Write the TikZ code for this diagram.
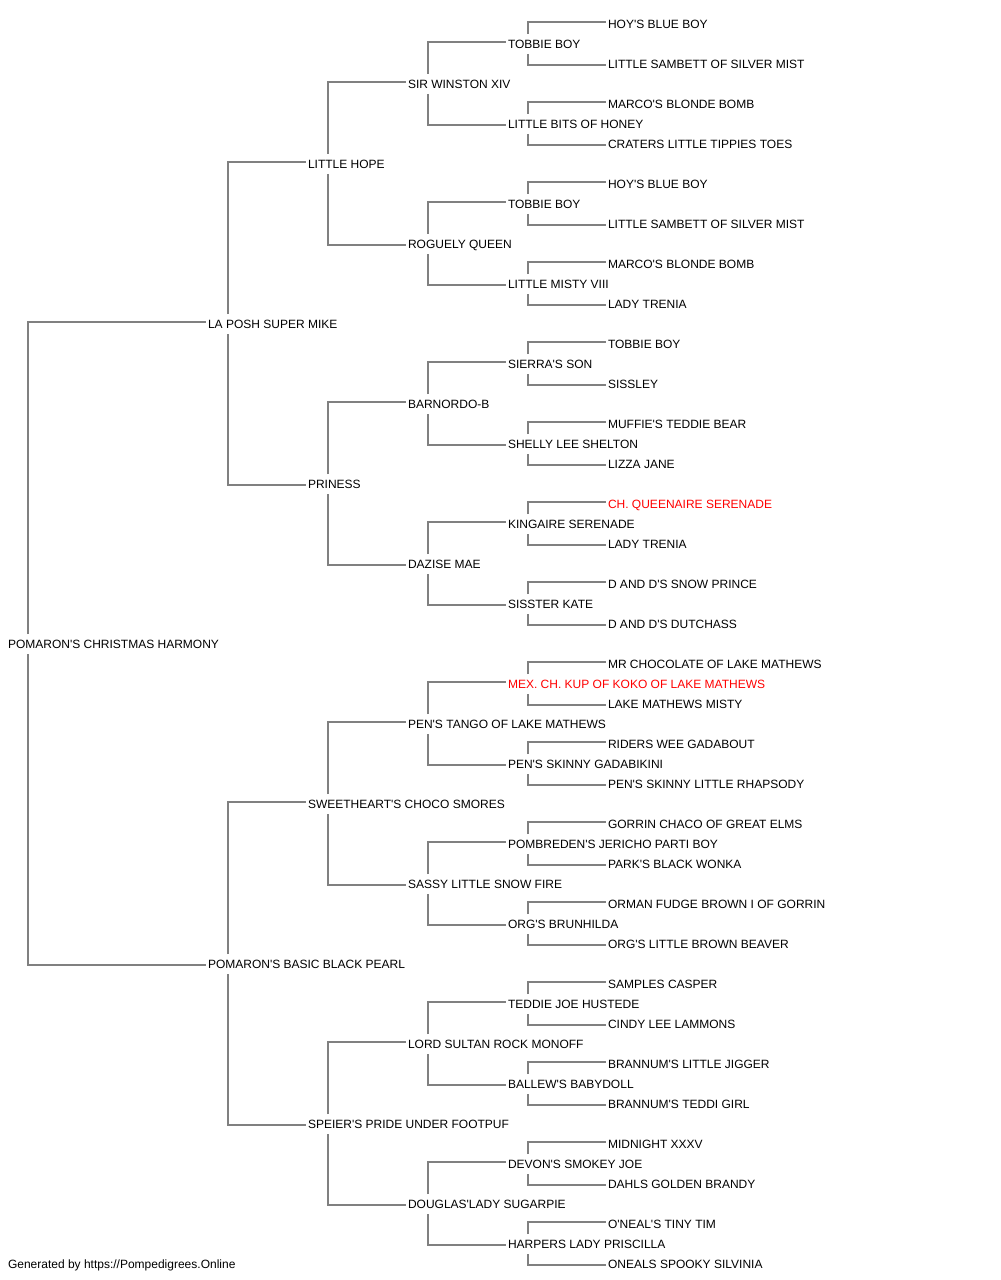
\documentclass[tikz,border=0pt]{standalone}
\usepackage{fontspec}
\newfontfamily\pf{Liberation Sans}
\definecolor{lngray}{RGB}{128,128,128}
\definecolor{redname}{RGB}{255,0,0}
\begin{document}
\begin{tikzpicture}[x=0.75pt,y=-0.75pt,
  nm/.style={anchor=west,inner sep=0pt,outer sep=0pt,text height=6.45pt,text depth=0pt,font=\pf\fontsize{9pt}{10pt}\selectfont,text=black},
  rednm/.style={nm,text=redname},
  ln/.style={draw=lngray,line width=1pt}]
\useasboundingbox (0,0) rectangle (1000,1280);
% generation 0
\node[nm] (g0-0) at (8,644) {POMARON'S CHRISTMAS HARMONY};
% generation 1
\node[nm] (g1-0) at (208,324) {LA POSH SUPER MIKE};
\node[nm] (g1-1) at (208,964) {POMARON'S BASIC BLACK PEARL};
% generation 2
\node[nm] (g2-0) at (308,164) {LITTLE HOPE};
\node[nm] (g2-1) at (308,484) {PRINESS};
\node[nm] (g2-2) at (308,804) {SWEETHEART'S CHOCO SMORES};
\node[nm] (g2-3) at (308,1124) {SPEIER'S PRIDE UNDER FOOTPUF};
% generation 3
\node[nm] (g3-0) at (408,84) {SIR WINSTON XIV};
\node[nm] (g3-1) at (408,244) {ROGUELY QUEEN};
\node[nm] (g3-2) at (408,404) {BARNORDO-B};
\node[nm] (g3-3) at (408,564) {DAZISE MAE};
\node[nm] (g3-4) at (408,724) {PEN'S TANGO OF LAKE MATHEWS};
\node[nm] (g3-5) at (408,884) {SASSY LITTLE SNOW FIRE};
\node[nm] (g3-6) at (408,1044) {LORD SULTAN ROCK MONOFF};
\node[nm] (g3-7) at (408,1204) {DOUGLAS'LADY SUGARPIE};
% generation 4
\node[nm] (g4-0) at (508,44) {TOBBIE BOY};
\node[nm] (g4-1) at (508,124) {LITTLE BITS OF HONEY};
\node[nm] (g4-2) at (508,204) {TOBBIE BOY};
\node[nm] (g4-3) at (508,284) {LITTLE MISTY VIII};
\node[nm] (g4-4) at (508,364) {SIERRA'S SON};
\node[nm] (g4-5) at (508,444) {SHELLY LEE SHELTON};
\node[nm] (g4-6) at (508,524) {KINGAIRE SERENADE};
\node[nm] (g4-7) at (508,604) {SISSTER KATE};
\node[rednm] (g4-8) at (508,684) {MEX. CH. KUP OF KOKO OF LAKE MATHEWS};
\node[nm] (g4-9) at (508,764) {PEN'S SKINNY GADABIKINI};
\node[nm] (g4-10) at (508,844) {POMBREDEN'S JERICHO PARTI BOY};
\node[nm] (g4-11) at (508,924) {ORG'S BRUNHILDA};
\node[nm] (g4-12) at (508,1004) {TEDDIE JOE HUSTEDE};
\node[nm] (g4-13) at (508,1084) {BALLEW'S BABYDOLL};
\node[nm] (g4-14) at (508,1164) {DEVON'S SMOKEY JOE};
\node[nm] (g4-15) at (508,1244) {HARPERS LADY PRISCILLA};
% generation 5
\node[nm] (g5-0) at (608,24) {HOY'S BLUE BOY};
\node[nm] (g5-1) at (608,64) {LITTLE SAMBETT OF SILVER MIST};
\node[nm] (g5-2) at (608,104) {MARCO'S BLONDE BOMB};
\node[nm] (g5-3) at (608,144) {CRATERS LITTLE TIPPIES TOES};
\node[nm] (g5-4) at (608,184) {HOY'S BLUE BOY};
\node[nm] (g5-5) at (608,224) {LITTLE SAMBETT OF SILVER MIST};
\node[nm] (g5-6) at (608,264) {MARCO'S BLONDE BOMB};
\node[nm] (g5-7) at (608,304) {LADY TRENIA};
\node[nm] (g5-8) at (608,344) {TOBBIE BOY};
\node[nm] (g5-9) at (608,384) {SISSLEY};
\node[nm] (g5-10) at (608,424) {MUFFIE'S TEDDIE BEAR};
\node[nm] (g5-11) at (608,464) {LIZZA JANE};
\node[rednm] (g5-12) at (608,504) {CH. QUEENAIRE SERENADE};
\node[nm] (g5-13) at (608,544) {LADY TRENIA};
\node[nm] (g5-14) at (608,584) {D AND D'S SNOW PRINCE};
\node[nm] (g5-15) at (608,624) {D AND D'S DUTCHASS};
\node[nm] (g5-16) at (608,664) {MR CHOCOLATE OF LAKE MATHEWS};
\node[nm] (g5-17) at (608,704) {LAKE MATHEWS MISTY};
\node[nm] (g5-18) at (608,744) {RIDERS WEE GADABOUT};
\node[nm] (g5-19) at (608,784) {PEN'S SKINNY LITTLE RHAPSODY};
\node[nm] (g5-20) at (608,824) {GORRIN CHACO OF GREAT ELMS};
\node[nm] (g5-21) at (608,864) {PARK'S BLACK WONKA};
\node[nm] (g5-22) at (608,904) {ORMAN FUDGE BROWN I OF GORRIN};
\node[nm] (g5-23) at (608,944) {ORG'S LITTLE BROWN BEAVER};
\node[nm] (g5-24) at (608,984) {SAMPLES CASPER};
\node[nm] (g5-25) at (608,1024) {CINDY LEE LAMMONS};
\node[nm] (g5-26) at (608,1064) {BRANNUM'S LITTLE JIGGER};
\node[nm] (g5-27) at (608,1104) {BRANNUM'S TEDDI GIRL};
\node[nm] (g5-28) at (608,1144) {MIDNIGHT XXXV};
\node[nm] (g5-29) at (608,1184) {DAHLS GOLDEN BRANDY};
\node[nm] (g5-30) at (608,1224) {O'NEAL'S TINY TIM};
\node[nm] (g5-31) at (608,1264) {ONEALS SPOOKY SILVINIA};
% footer
\node[nm] (footer) at (8,1264) {Generated by https://Pompedigrees.Online};
% connectors
\foreach \k/\kk/\n in {0/1/0,1/2/1,2/3/3,3/4/7,4/5/15}{
  \foreach \i in {0,...,\n}{
    \pgfmathtruncatemacro{\a}{2*\i}
    \pgfmathtruncatemacro{\b}{2*\i+1}
    \draw[ln] ([shift={(20,-10)}]g\k-\i.west) |- ([shift={(-2,-2)}]g\kk-\a.west);
    \draw[ln] ([shift={(20,10)}]g\k-\i.west) |- ([shift={(-2,1)}]g\kk-\b.west);
  }
}
\end{tikzpicture}
\end{document}
